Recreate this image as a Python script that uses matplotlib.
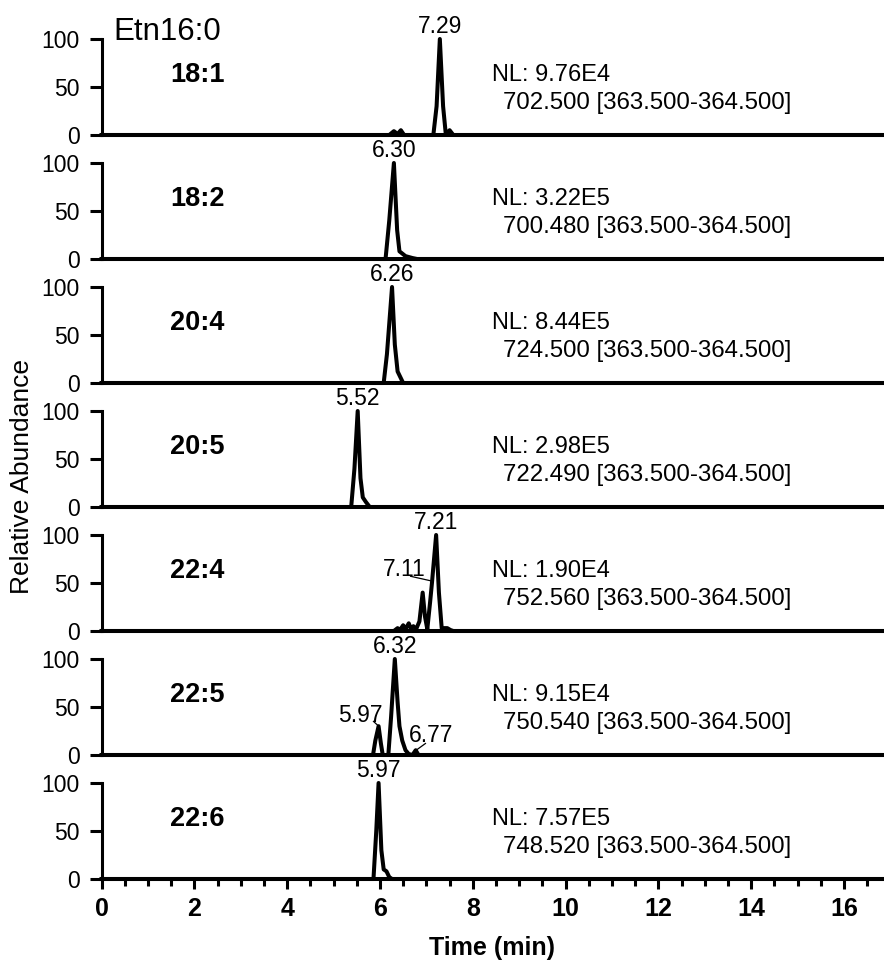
import matplotlib
matplotlib.use("Agg")
import matplotlib.pyplot as plt
from matplotlib.ticker import MultipleLocator

# one chromatogram per row, time in min / relative abundance in %
species = ["18:1", "18:2", "20:4", "20:5", "22:4", "22:5", "22:6"]
nl_values = ["9.76E4", "3.22E5", "8.44E5", "2.98E5", "1.90E4", "9.15E4", "7.57E5"]
mz_values = ["702.500", "700.480", "724.500", "722.490", "752.560", "750.540", "748.520"]
mz_range = "[363.500-364.500]"

trace_t = [
    [0, 6.2, 6.3, 6.38, 6.45, 6.52, 7.15, 7.22, 7.29, 7.36, 7.42, 7.5, 7.58, 17],
    [0, 6.12, 6.2, 6.30, 6.37, 6.42, 6.55, 6.7, 6.8, 17],
    [0, 6.08, 6.15, 6.26, 6.32, 6.38, 6.45, 6.5, 17],
    [0, 5.38, 5.45, 5.52, 5.58, 5.63, 5.7, 5.78, 17],
    [0, 6.3, 6.38, 6.43, 6.5, 6.55, 6.62, 6.66, 6.72, 6.78, 6.85, 6.92, 6.97,
     7.02, 7.08, 7.12, 7.21, 7.27, 7.33, 7.45, 7.52, 7.58, 17],
    [0, 5.85, 5.9, 5.97, 6.02, 6.06, 6.18, 6.24, 6.32, 6.38, 6.42, 6.48, 6.55,
     6.62, 6.7, 6.77, 6.83, 17],
    [0, 5.86, 5.92, 5.97, 6.03, 6.08, 6.14, 6.2, 6.26, 17],
]
trace_y = [
    [0, 0, 4, 1, 5, 0, 0, 30, 100, 30, 0, 5, 0, 0],
    [0, 0, 40, 100, 30, 8, 3, 1, 0, 0],
    [0, 0, 30, 100, 40, 12, 5, 0, 0],
    [0, 0, 40, 100, 30, 10, 5, 0, 0],
    [0, 0, 3, 1, 6, 2, 8, 3, 5, 2, 10, 40, 15, 2, 30, 50, 100, 40, 3, 3, 1, 0, 0],
    [0, 0, 15, 30, 12, 0, 0, 40, 100, 55, 30, 15, 5, 1, 0, 5, 0, 0],
    [0, 0, 50, 100, 30, 10, 8, 2, 0, 0],
]

# main peak label per row
peak_t = [7.29, 6.30, 6.26, 5.52, 7.21, 6.32, 5.97]
peak_text = ["7.29", "6.30", "6.26", "5.52", "7.21", "6.32", "5.97"]

# extra labelled peaks: (row, time, height, text)
minor_peaks = [
    (4, 7.12, 52, "7.11"),
    (5, 5.95, 30, "5.97"),
    (5, 6.78, 5, "6.77"),
]
minor_text_xy = [(6.53, 64), (5.58, 41), (7.1, 20)]

x_max = 16.86
fig = plt.figure(figsize=(8.84, 9.63), dpi=100)
W, H = 884, 963
left_px = 101.5
row_px = 124
ytop = 100 * row_px / 96.0

reg = ["Liberation Sans", "DejaVu Sans"]
narrow = ["Liberation Sans Narrow", "Liberation Sans", "DejaVu Sans"]

axes = []
for i in range(len(species)):
    base = 135 + row_px * i
    ax = fig.add_axes([left_px / W, 1 - base / H, 1 - left_px / W, row_px / H])
    axes.append(ax)
    ax.plot(trace_t[i], trace_y[i], color="black", lw=2.9, solid_joinstyle="round",
            clip_on=False, zorder=3)
    ax.set_xlim(0, x_max)
    ax.set_ylim(0, ytop)
    for s in ["top", "right"]:
        ax.spines[s].set_visible(False)
    ax.spines["left"].set_bounds(0, 100)
    ax.spines["left"].set_linewidth(2.2)
    ax.spines["bottom"].set_linewidth(2.9)
    ax.set_yticks([0, 50, 100])
    ax.tick_params(axis="y", direction="out", length=8.5, width=2.2, pad=7,
                   labelsize=16.5)
    for lab in ax.get_yticklabels():
        lab.set_family(reg)
    ax.patch.set_visible(False)

    ax.text(1.48, 62, species[i], fontsize=19.5, fontweight="bold", family=reg,
            va="center", ha="left")
    ax.text(8.42, 62, "NL: " + nl_values[i], fontsize=17, family=reg,
            va="center", ha="left")
    ax.text(8.65, 33, mz_values[i] + " " + mz_range, fontsize=17.3, family=reg,
            va="center", ha="left")
    ax.text(peak_t[i], 101, peak_text[i], fontsize=16.5, family=reg,
            ha="center", va="bottom", clip_on=False)

    if i < len(species) - 1:
        ax.tick_params(axis="x", bottom=False, labelbottom=False)

axes[0].text(0.25, 107, "Etn16:0", fontsize=22.5, family=reg, va="center", ha="left")

for (row, t, h, txt), (tx, ty) in zip(minor_peaks, minor_text_xy):
    ax = axes[row]
    ax.text(tx, ty, txt, fontsize=16.5, family=reg, ha="center", va="center")
    if txt == "7.11":
        ax.plot([6.66, t], [57, h], color="black", lw=0.9)
    elif txt == "5.97":
        ax.plot([5.86, t], [35, h + 1], color="black", lw=0.9)
    else:
        ax.plot([t, 6.98], [h, 12], color="black", lw=0.9)

bax = axes[-1]
bax.xaxis.set_major_locator(MultipleLocator(2))
bax.xaxis.set_minor_locator(MultipleLocator(0.5))
bax.tick_params(axis="x", which="major", direction="out", length=7, width=2.2,
                pad=6, labelsize=18)
bax.tick_params(axis="x", which="minor", direction="out", length=5, width=2.2)
for lab in bax.get_xticklabels():
    lab.set_family(narrow)
    lab.set_fontweight("bold")

fig.text(492 / W, 1 - 948 / H, "Time (min)", fontsize=18, fontweight="bold",
         family=narrow, ha="center", va="center")
fig.text(22 / W, 1 - 476 / H, "Relative Abundance", fontsize=19, family=reg,
         rotation=90, ha="center", va="center")

fig.savefig("out.png", dpi=100)
